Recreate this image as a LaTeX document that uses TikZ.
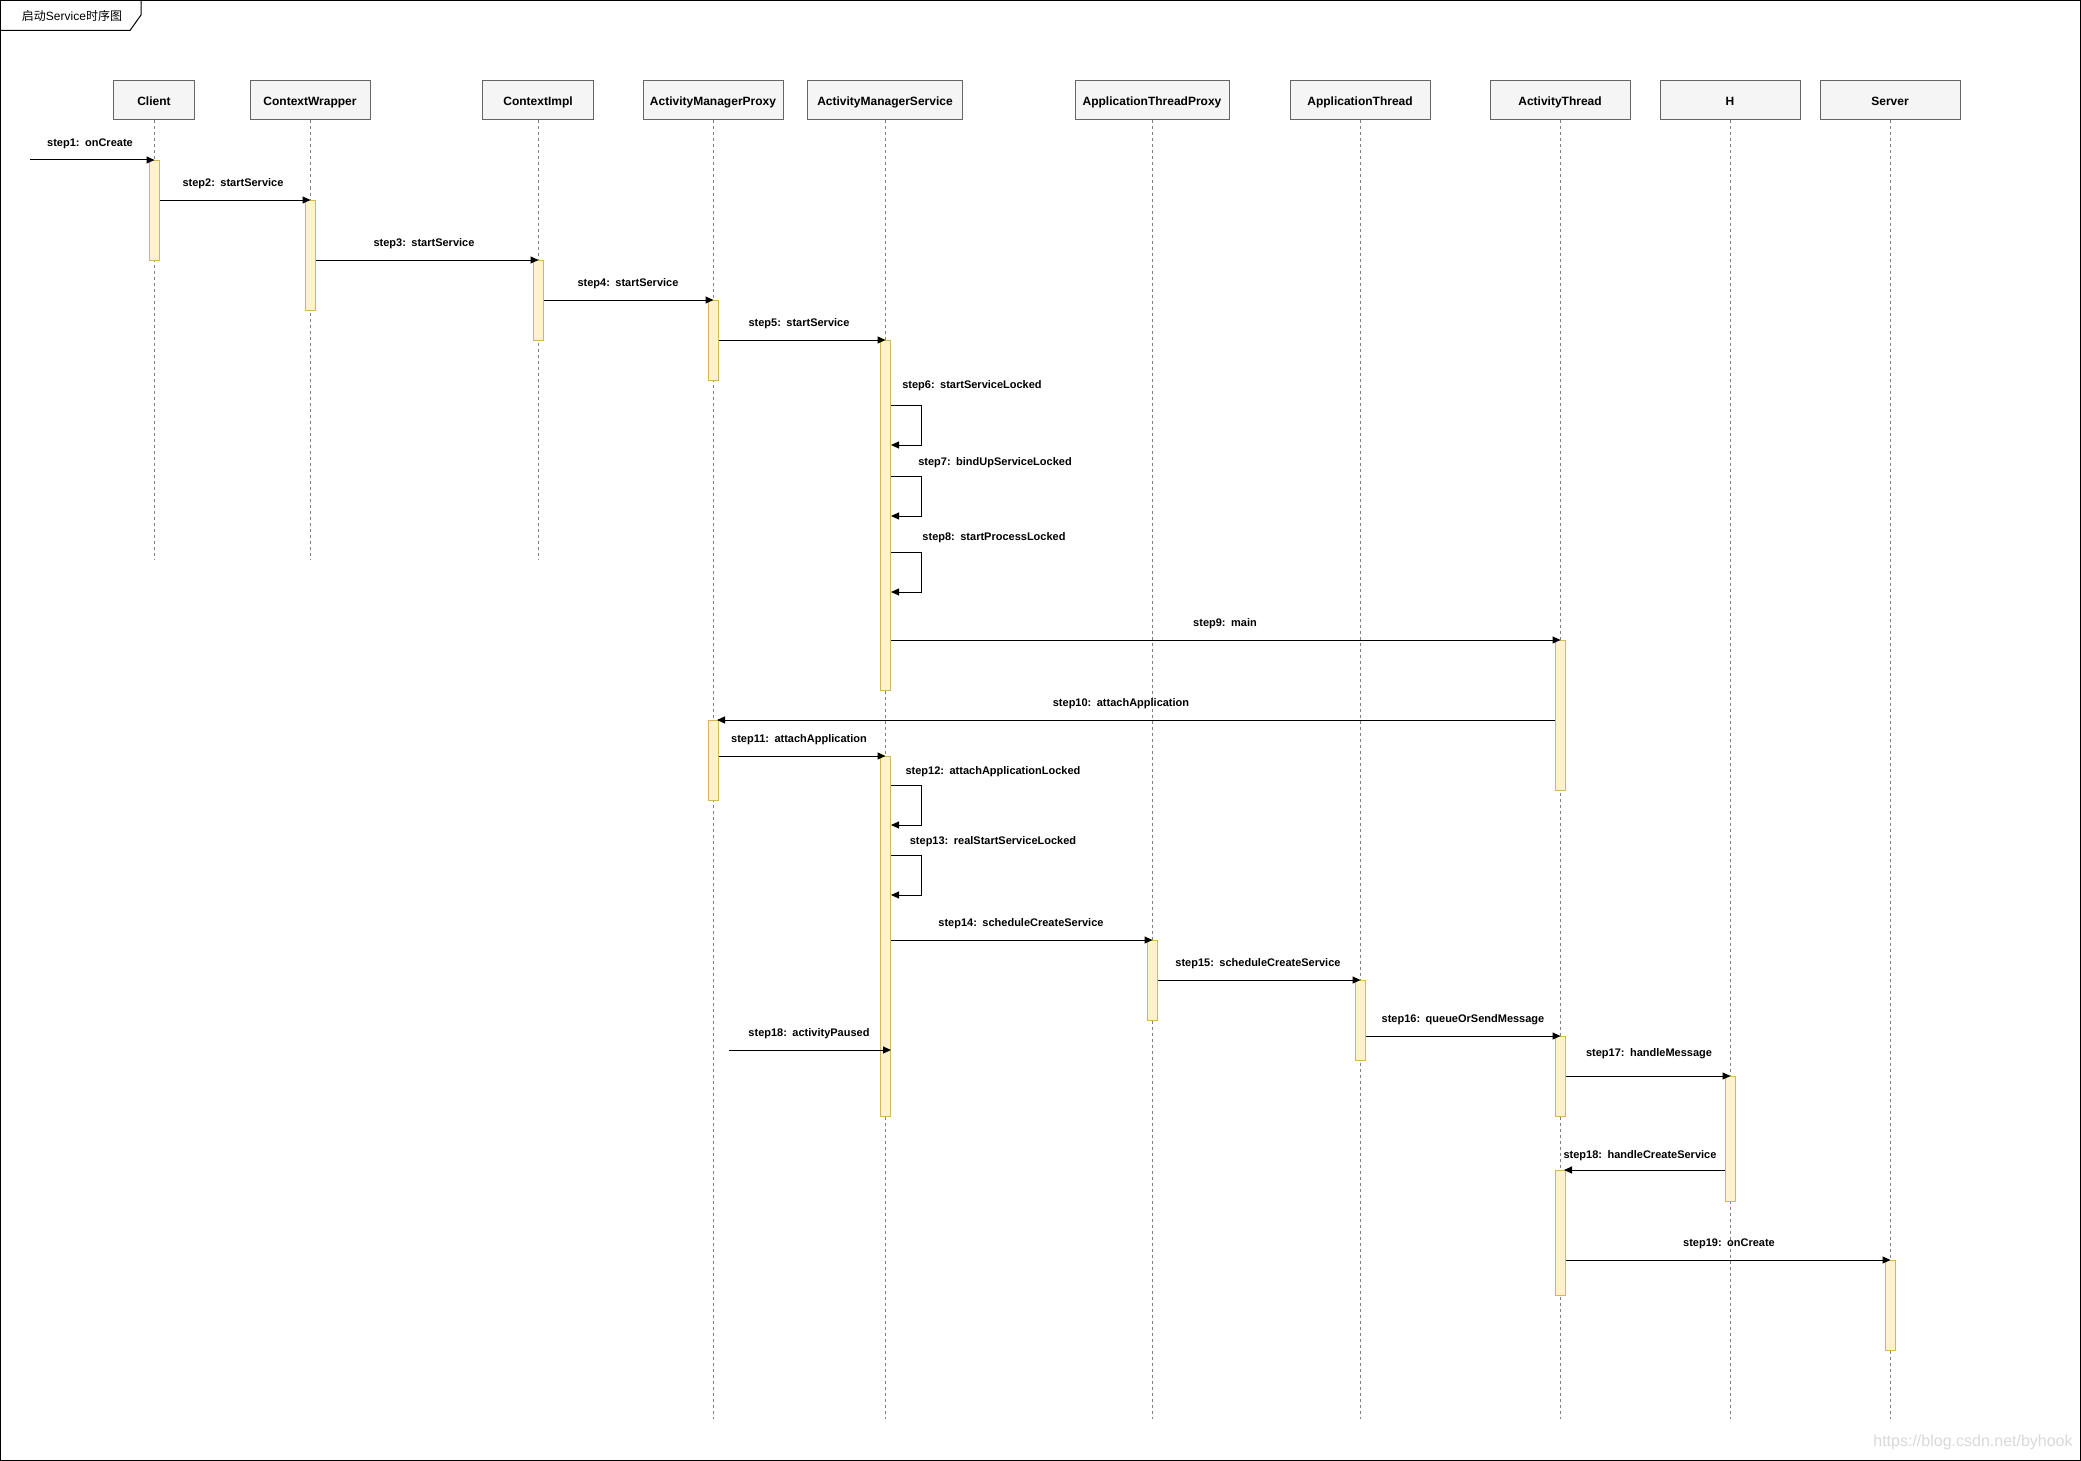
\documentclass[tikz,border=0pt]{standalone}
\usepackage{fontspec}
\setmainfont{Liberation Sans}
\newfontfamily\cjk{Noto Sans CJK SC}
\usetikzlibrary{arrows.meta}
\definecolor{actfill}{HTML}{FFF2CC}
\definecolor{actdraw}{HTML}{D6B656}
\definecolor{hdrfill}{HTML}{F5F5F5}
\definecolor{hdrdraw}{HTML}{666666}
\definecolor{lifecol}{HTML}{808080}
\begin{document}
\begin{tikzpicture}[x=1pt,y=-1pt,
  hdr/.style={draw=hdrdraw, fill=hdrfill, line width=1pt, inner sep=0pt, minimum height=39pt, text height=9.5pt, text depth=0pt, font=\fontsize{12}{14}\selectfont\bfseries},
  act/.style={draw=actdraw, fill=actfill, line width=1pt, inner sep=0pt, minimum width=10pt, anchor=north west},
  life/.style={draw=lifecol, dash pattern=on 3pt off 3pt, line width=0.8pt},
  msg/.style={-{Triangle[length=8pt,width=7pt]}, line width=1pt, black},
  lbl/.style={font=\fontsize{11}{13}\selectfont\bfseries, inner sep=0pt, yshift=-1.5pt}]
\useasboundingbox (0,0) rectangle (2081,1461);
% frame
\draw[line width=1pt] (0.5,0.5) rectangle (2080.5,1460.5);
\draw[line width=1pt] (0.5,0.5) -- (141,0.5) -- (141,15) -- (130,30.5) -- (0.5,30.5);
\node[inner sep=0pt, font=\fontsize{12}{14}\selectfont] (title) at (72,15.5) {{\cjk 启动}Service{\cjk 时序图}};
% headers
\node[hdr, minimum width=81pt]  (hCl)  at (154,100.5)  {Client};
\node[hdr, minimum width=120pt] (hCW)  at (310,100.5)  {ContextWrapper};
\node[hdr, minimum width=111pt] (hCI)  at (538,100.5)  {ContextImpl};
\node[hdr, minimum width=140pt] (hAMP) at (713,100.5)  {ActivityManagerProxy};
\node[hdr, minimum width=155pt] (hAMS) at (885,100.5)  {ActivityManagerService};
\node[hdr, minimum width=154pt] (hATP) at (1152,100.5) {ApplicationThreadProxy};
\node[hdr, minimum width=140pt] (hAT)  at (1360,100.5) {ApplicationThread};
\node[hdr, minimum width=140pt] (hActT) at (1560,100.5) {ActivityThread};
\node[hdr, minimum width=140pt] (hH)   at (1730,100.5) {H};
\node[hdr, minimum width=140pt] (hSrv) at (1890,100.5) {Server};
% lifeline ends
\coordinate (eCl) at (154,560);
\coordinate (eCW) at (310,560);
\coordinate (eCI) at (538,560);
\coordinate (eAMP) at (713,1419);
\coordinate (eAMS) at (885,1419);
\coordinate (eATP) at (1152,1419);
\coordinate (eAT) at (1360,1419);
\coordinate (eActT) at (1560,1419);
\coordinate (eH) at (1730,1419);
\coordinate (eSrv) at (1890,1419);
\foreach \h/\e in {hCl/eCl,hCW/eCW,hCI/eCI,hAMP/eAMP,hAMS/eAMS,hATP/eATP,hAT/eAT,hActT/eActT,hH/eH,hSrv/eSrv}
  \draw[life] (\h.south) -- (\e);
% activations
\node[act, minimum height=100pt] (A1) at (149,160) {};
\node[act, minimum height=110pt] (A2) at (305,200) {};
\node[act, minimum height=80pt]  (A3) at (533,260) {};
\node[act, minimum height=80pt]  (A4) at (708,300) {};
\node[act, minimum height=350pt] (A5) at (880,340) {};
\node[act, minimum height=150pt] (A6) at (1555,640) {};
\node[act, minimum height=80pt]  (A7) at (708,720) {};
\node[act, minimum height=360pt] (A8) at (880,756) {};
\node[act, minimum height=80pt]  (A9) at (1147,940) {};
\node[act, minimum height=80pt]  (A10) at (1355,980) {};
\node[act, minimum height=80pt]  (A11) at (1555,1036) {};
\node[act, minimum height=125pt] (A12) at (1725,1076) {};
\node[act, minimum height=125pt] (A13) at (1555,1170) {};
\node[act, minimum height=90pt]  (A14) at (1885,1260) {};
% messages
\coordinate (s1) at (30,160);
\draw[msg] (s1) -- (A1.north);
\draw[msg] (A1.east |- A2.north) -- (A2.north);
\draw[msg] (A2.east |- A3.north) -- (A3.north);
\draw[msg] (A3.east |- A4.north) -- (A4.north);
\draw[msg] (A4.east |- A5.north) -- (A5.north);
\draw[msg] ([yshift=-65pt]A5.north east) -- ++(30,0) -- ++(0,40) -- ++(-30,0);
\draw[msg] ([yshift=-136pt]A5.north east) -- ++(30,0) -- ++(0,40) -- ++(-30,0);
\draw[msg] ([yshift=-212pt]A5.north east) -- ++(30,0) -- ++(0,40) -- ++(-30,0);
\draw[msg] (A5.east |- A6.north) -- (A6.north);
\draw[msg] (A6.west |- A7.north east) -- ([xshift=-2pt]A7.north east);
\draw[msg] (A7.east |- A8.north) -- (A8.north);
\draw[msg] ([yshift=-29pt]A8.north east) -- ++(30,0) -- ++(0,40) -- ++(-30,0);
\draw[msg] ([yshift=-99pt]A8.north east) -- ++(30,0) -- ++(0,40) -- ++(-30,0);
\draw[msg] (A8.east |- A9.north) -- (A9.north);
\draw[msg] (A9.east |- A10.north) -- (A10.north);
\draw[msg] (A10.east |- A11.north) -- (A11.north);
\draw[msg] (A11.east |- A12.north) -- (A12.north);
\draw[msg] (A12.west |- A13.north east) -- ([xshift=-2pt]A13.north east);
\draw[msg] (A13.east |- A14.north) -- (A14.north);
\coordinate (s18) at (729,1050);
\draw[msg] (s18) -- (s18 -| A8.east);
% labels
\node[lbl] (l1)  at (90,142)    {step1:\enspace onCreate};
\node[lbl] (l2)  at (233,182)   {step2:\enspace startService};
\node[lbl] (l3)  at (424,242)   {step3:\enspace startService};
\node[lbl] (l4)  at (628,282)   {step4:\enspace startService};
\node[lbl] (l5)  at (799,322)   {step5:\enspace startService};
\node[lbl] (l6)  at (972,384)   {step6:\enspace startServiceLocked};
\node[lbl] (l7)  at (995,461)   {step7:\enspace bindUpServiceLocked};
\node[lbl] (l8)  at (994,536)   {step8:\enspace startProcessLocked};
\node[lbl] (l9)  at (1225,622)  {step9:\enspace main};
\node[lbl] (l10) at (1121,702)  {step10:\enspace attachApplication};
\node[lbl] (l11) at (799,738)   {step11:\enspace attachApplication};
\node[lbl] (l12) at (993,770)   {step12:\enspace attachApplicationLocked};
\node[lbl] (l13) at (993,840)   {step13:\enspace realStartServiceLocked};
\node[lbl] (l14) at (1021,922)  {step14:\enspace scheduleCreateService};
\node[lbl] (l15) at (1258,962)  {step15:\enspace scheduleCreateService};
\node[lbl] (l16) at (1463,1018) {step16:\enspace queueOrSendMessage};
\node[lbl] (l18a) at (809,1032) {step18:\enspace activityPaused};
\node[lbl] (l17) at (1649,1052) {step17:\enspace handleMessage};
\node[lbl] (l18b) at (1640,1154) {step18:\enspace handleCreateService};
\node[lbl] (l19) at (1729,1242) {step19:\enspace onCreate};
% watermark
\node[inner sep=0pt, text=black!15, font=\fontsize{16}{18}\selectfont] (wm) at (1973,1442) {https://blog.csdn.net/byhook};
\end{tikzpicture}
\end{document}
